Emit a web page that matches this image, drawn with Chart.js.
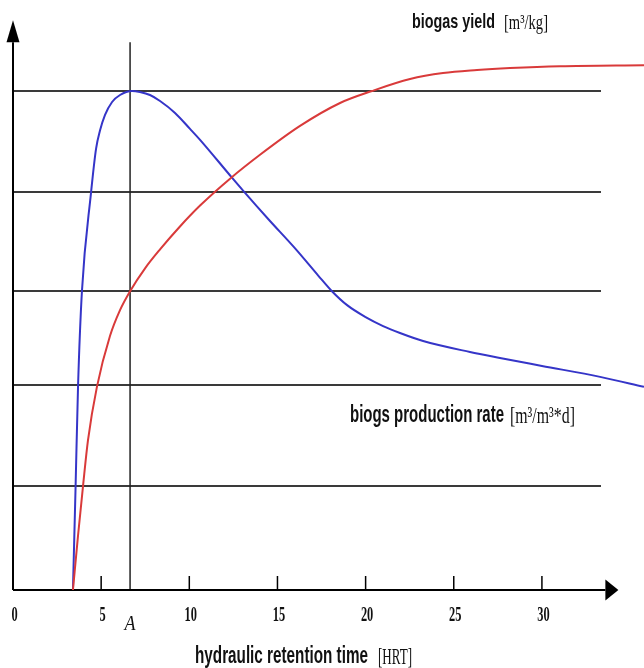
<!DOCTYPE html>
<html>
<head>
<meta charset="utf-8">
<title>Biogas yield vs HRT</title>
<script src="https://cdn.jsdelivr.net/npm/chart.js@4/dist/chart.umd.min.js"></script>
<style>
  html, body { margin: 0; padding: 0; background: #fff; }
  .wrap { position: relative; width: 644px; height: 668px; }
</style>
</head>
<body>
<div class="wrap"><canvas id="chart"></canvas></div>
<script>
// ── data ──
// blue: biogas production rate
const rateHrt = [3.40, 3.55, 3.69, 3.91, 4.42, 4.71, 4.93, 5.22, 5.62, 6.07, 6.75, 7.20, 7.77, 8.34, 9.19, 10.04, 10.61, 12.42, 13.05, 14.50, 16.00, 17.30, 18.09, 18.95, 20.00, 20.99, 21.95, 23.26, 25.92, 27.62, 30.00, 33.30, 35.79];
const rateVal = [0, 1.04, 2.05, 3.00, 3.98, 4.43, 4.61, 4.77, 4.90, 4.97, 5.01, 5.00, 4.97, 4.91, 4.79, 4.63, 4.52, 4.14, 4.01, 3.72, 3.43, 3.16, 3.00, 2.86, 2.74, 2.65, 2.58, 2.50, 2.39, 2.33, 2.25, 2.14, 2.04];
// red: biogas yield
const yieldHrt = [3.40, 3.69, 3.97, 4.25, 4.76, 5.50, 6.07, 6.64, 7.49, 8.34, 9.47, 10.61, 12.31, 14.01, 16.28, 18.55, 20.36, 22.52, 24.39, 26.32, 28.19, 31.03, 35.79];
const yieldVal = [0, 0.55, 1.04, 1.50, 2.04, 2.55, 2.81, 3.00, 3.23, 3.42, 3.65, 3.86, 4.13, 4.37, 4.66, 4.89, 5.01, 5.13, 5.19, 5.22, 5.24, 5.26, 5.27];

const xTicks = [0, 5, 10, 15, 20, 25, 30];
const gridLevels = [1.04, 2.06, 3, 4, 5.01];
const markA = 6.64;
const gridEnd = 33.35;
const axisEnd = 33.6;   // where the x arrow starts
const yAxisTop = 5.5;   // where the y arrow starts

const toPoints = (xs, ys) => xs.map((x, i) => ({ x, y: ys[i] }));

function fitText(ctx, str, x, y, width, font) {
  ctx.save();
  ctx.font = font;
  const w = ctx.measureText(str).width;
  ctx.translate(x, y);
  ctx.scale(width / w, 1);
  ctx.textAlign = 'left';
  ctx.textBaseline = 'alphabetic';
  ctx.fillText(str, 0, 0);
  ctx.restore();
}

function squeezed(ctx, str, cx, y, sx, font) {
  ctx.save();
  ctx.font = font;
  ctx.translate(cx, y);
  ctx.scale(sx, 1);
  ctx.textAlign = 'center';
  ctx.textBaseline = 'alphabetic';
  ctx.fillText(str, 0, 0);
  ctx.restore();
}

const overlay = {
  id: 'overlay',
  beforeDatasetsDraw(chart) {
    const { ctx, scales: { x, y } } = chart;
    const x0 = x.getPixelForValue(0), y0 = y.getPixelForValue(0);
    ctx.save();
    // horizontal grid lines
    ctx.strokeStyle = '#3a3a3a';
    ctx.lineWidth = 2;
    gridLevels.forEach(v => {
      const py = Math.round(y.getPixelForValue(v));
      ctx.beginPath();
      ctx.moveTo(x0, py);
      ctx.lineTo(x.getPixelForValue(gridEnd), py);
      ctx.stroke();
    });
    // vertical line at A
    const ax = x.getPixelForValue(markA);
    ctx.lineWidth = 1.5;
    ctx.strokeStyle = '#222';
    ctx.beginPath();
    ctx.moveTo(ax, y.getPixelForValue(yAxisTop));
    ctx.lineTo(ax, y0);
    ctx.stroke();
    // axes
    ctx.strokeStyle = '#000';
    ctx.fillStyle = '#000';
    ctx.lineWidth = 2;
    const yTop = y.getPixelForValue(yAxisTop);
    const xEnd = x.getPixelForValue(axisEnd);
    ctx.beginPath();
    ctx.moveTo(x0, y0);
    ctx.lineTo(x0, yTop);
    ctx.moveTo(x0, y0);
    ctx.lineTo(xEnd, y0);
    ctx.stroke();
    // arrow heads
    ctx.beginPath();
    ctx.moveTo(x0, yTop - 22);
    ctx.lineTo(x0 - 6.5, yTop);
    ctx.lineTo(x0 + 6.5, yTop);
    ctx.closePath();
    ctx.fill();
    ctx.beginPath();
    ctx.moveTo(xEnd + 13, y0);
    ctx.lineTo(xEnd, y0 - 10.5);
    ctx.lineTo(xEnd, y0 + 10.5);
    ctx.closePath();
    ctx.fill();
    // tick marks
    ctx.lineWidth = 1.5;
    xTicks.slice(1).forEach(v => {
      const px = x.getPixelForValue(v);
      ctx.beginPath();
      ctx.moveTo(px, y0);
      ctx.lineTo(px, y0 - 14);
      ctx.stroke();
    });
    ctx.restore();
  },
  afterDatasetsDraw(chart) {
    const { ctx, scales: { x, y } } = chart;
    const y0 = y.getPixelForValue(0);
    ctx.save();
    ctx.fillStyle = '#111';
    xTicks.forEach(v => {
      squeezed(ctx, String(v), x.getPixelForValue(v) + 1.5, y0 + 31, 0.62, 'bold 20px "Liberation Serif"');
    });
    squeezed(ctx, 'A', x.getPixelForValue(markA), y0 + 40, 0.9, 'italic 20px "Liberation Serif"');

    fitText(ctx, 'biogas yield', 412, 28, 83, 'bold 21px "Liberation Sans"');
    fitText(ctx, '[m³/kg]', 504, 29, 44, '22px "Liberation Serif"');
    fitText(ctx, 'biogs production rate', 350, 422, 154, 'bold 23px "Liberation Sans"');
    fitText(ctx, '[m³/m³*d]', 510, 423, 65, '23px "Liberation Serif"');
    fitText(ctx, 'hydraulic retention time', 195, 663, 173, 'bold 24px "Liberation Sans"');
    fitText(ctx, '[HRT]', 378, 664, 34, '24px "Liberation Serif"');
    ctx.restore();
  }
};

new Chart(document.getElementById('chart'), {
  type: 'line',
  data: {
    datasets: [
      { label: 'biogas yield', data: toPoints(yieldHrt, yieldVal), borderColor: '#d93a3a', borderWidth: 2, pointRadius: 0, cubicInterpolationMode: 'monotone', fill: false },
      { label: 'biogas production rate', data: toPoints(rateHrt, rateVal), borderColor: '#3535c8', borderWidth: 2, pointRadius: 0, cubicInterpolationMode: 'monotone', fill: false },
    ],
  },
  options: {
    responsive: true, maintainAspectRatio: false, animation: false,
    layout: { padding: { left: 13, right: 0, top: 0, bottom: 78 } },
    plugins: { legend: { display: false }, tooltip: { enabled: false } },
    scales: {
      x: { type: 'linear', min: 0, max: 35.79, display: false },
      y: { type: 'linear', min: 0, max: 5.924, display: false },
    },
  },
  plugins: [overlay],
});
</script>
</body>
</html>
